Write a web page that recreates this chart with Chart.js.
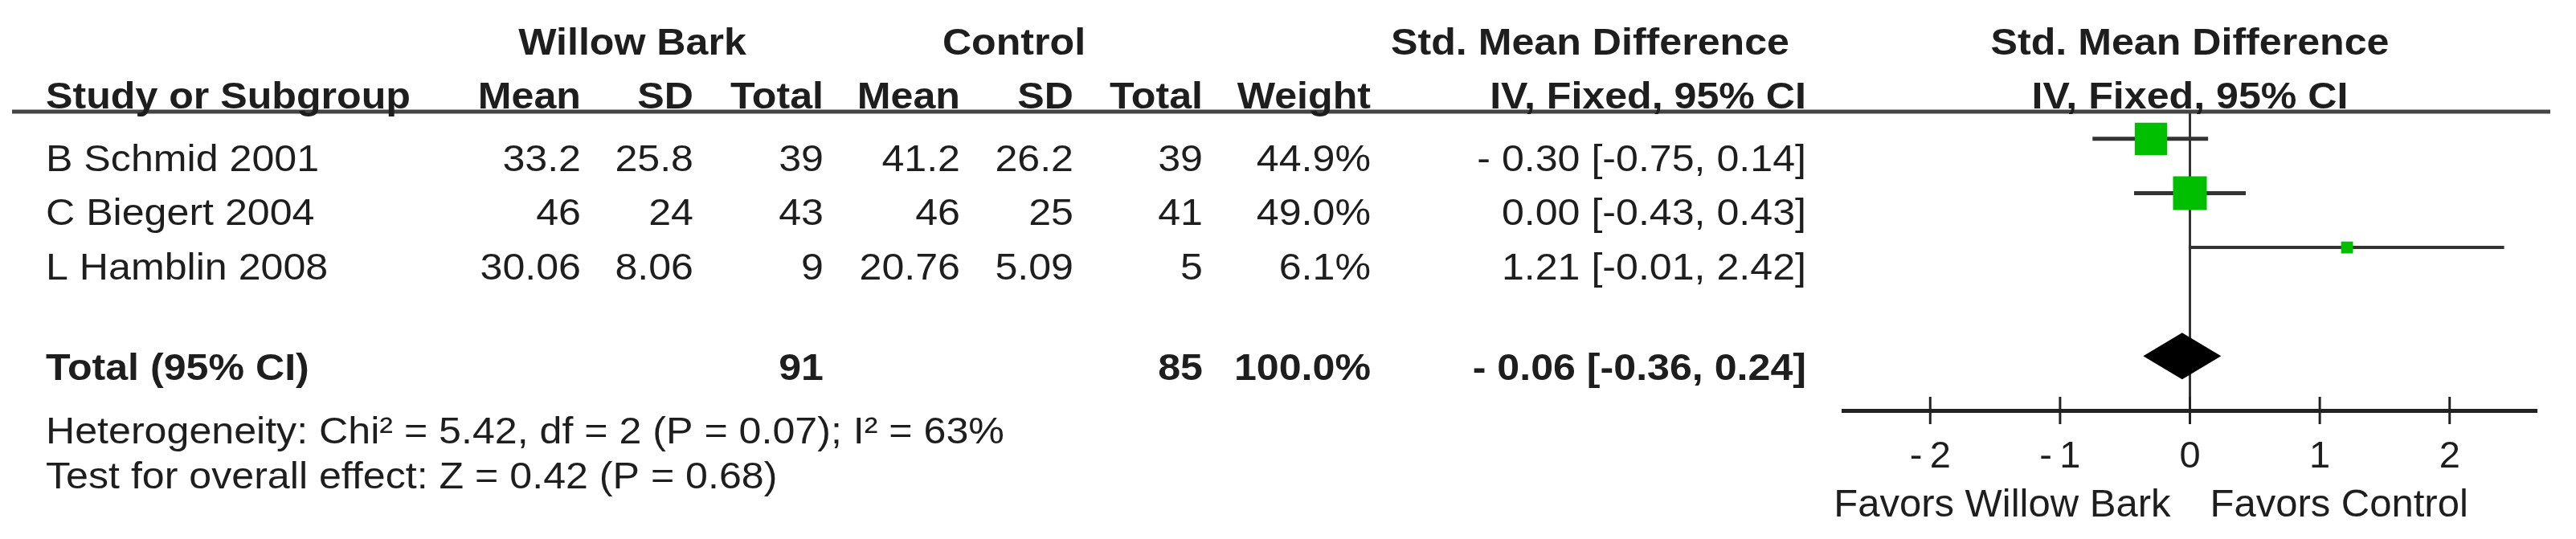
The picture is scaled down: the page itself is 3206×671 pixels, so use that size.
<!DOCTYPE html>
<html>
<head>
<meta charset="utf-8">
<script src="https://cdn.jsdelivr.net/npm/chart.js@4.4.1/dist/chart.umd.min.js"></script>
<style>
    html, body { margin: 0; padding: 0; background: #fff; }
    #wrap { width: 3206px; height: 671px; }
</style>
</head>
<body>
<div id="wrap"><canvas id="forestChart" width="3206" height="671"></canvas></div>
<script>
// data
const studies = ["B Schmid 2001", "C Biegert 2004", "L Hamblin 2008"];
const wbMean = [33.2, 46, 30.06];
const wbSD = [25.8, 24, 8.06];
const wbTotal = [39, 43, 9];
const ctlMean = [41.2, 46, 20.76];
const ctlSD = [26.2, 25, 5.09];
const ctlTotal = [39, 41, 5];
const weights = [44.9, 49.0, 6.1];
const smd = [-0.30, 0.00, 1.21];
const ciLow = [-0.75, -0.43, -0.01];
const ciHigh = [0.14, 0.43, 2.42];
const pooled = [-0.06, -0.36, 0.24];     // estimate, low, high
const totals = [91, 85];
const totalWeight = 100.0;
const heterogeneity = "Heterogeneity: Chi² = 5.42, df = 2 (P = 0.07); I² = 63%";
const overallTest = "Test for overall effect: Z = 0.42 (P = 0.68)";
const tickValues = [-2, -1, 0, 1, 2];
const favorsLabels = ["Favors Willow Bark", "Favors Control"];

const rowPos = [1, 2, 3];
const totalPos = 5;

const FONT = '"Liberation Sans", Arial, sans-serif';
const TEXT = "#1e1e1e";
const SX = 1.09;

function put(ctx, s, x, y, align, bold, size, sx) {
    ctx.save();
    ctx.font = (bold ? "bold " : "") + (size || 46) + "px " + FONT;
    ctx.fillStyle = TEXT;
    ctx.textAlign = align;
    ctx.textBaseline = "alphabetic";
    ctx.translate(x, y);
    ctx.scale(sx || SX, 1);
    ctx.fillText(s, 0, 0);
    ctx.restore();
}

const fmtSmd = v => (v < 0 ? "- " : "") + Math.abs(v).toFixed(2);
const fmtCi = (lo, hi) => "[" + lo.toFixed(2) + ", " + hi.toFixed(2) + "]";

// column anchors (right edges, except study name)
const col = { study: 57, wbMean: 723, wbSD: 863, wbTotal: 1025, cMean: 1195, cSD: 1336, cTotal: 1497, weight: 1706, ci: 2248 };
const rowBase = [213, 280, 348];

const forestPlugin = {
    id: "forestExtras",
    beforeDatasetsDraw(chart) {
        const ctx = chart.ctx;
        const xs = chart.scales.x;
        const a = chart.chartArea;
        const x0 = xs.getPixelForValue(0);
        ctx.save();
        ctx.strokeStyle = "#333";
        ctx.lineWidth = 3;
        ctx.beginPath();
        ctx.moveTo(x0, a.top);
        ctx.lineTo(x0, a.bottom);
        ctx.stroke();
        ctx.restore();
    },
    afterDatasetsDraw(chart) {
        const ctx = chart.ctx;
        const xs = chart.scales.x;
        const ys = chart.scales.y;
        const cx = xs.getPixelForValue(pooled[0]);
        const l = xs.getPixelForValue(pooled[1]);
        const r = xs.getPixelForValue(pooled[2]);
        const cy = ys.getPixelForValue(totalPos);
        const h = 29;
        ctx.save();
        ctx.fillStyle = "#000";
        ctx.beginPath();
        ctx.moveTo(l, cy);
        ctx.lineTo(cx, cy - h);
        ctx.lineTo(r, cy);
        ctx.lineTo(cx, cy + h);
        ctx.closePath();
        ctx.fill();
        ctx.restore();
    },
    afterDraw(chart) {
        const ctx = chart.ctx;
        const xs = chart.scales.x;
        const a = chart.chartArea;
        const x0 = xs.getPixelForValue(0);

        // tick marks across the axis
        ctx.save();
        ctx.strokeStyle = "#222";
        ctx.lineWidth = 3;
        tickValues.forEach(v => {
            const px = xs.getPixelForValue(v);
            ctx.beginPath();
            ctx.moveTo(px, a.bottom - 17);
            ctx.lineTo(px, a.bottom + 17);
            ctx.stroke();
        });
        // header rule
        ctx.strokeStyle = "#444";
        ctx.lineWidth = 5;
        ctx.beginPath();
        ctx.moveTo(15, a.top);
        ctx.lineTo(3174, a.top);
        ctx.stroke();
        ctx.restore();

        // headers
        put(ctx, "Willow Bark", 787, 68, "center", true);
        put(ctx, "Control", 1262, 68, "center", true);
        put(ctx, "Std. Mean Difference", 1979, 68, "center", true);
        put(ctx, "Std. Mean Difference", x0, 68, "center", true);
        put(ctx, "Study or Subgroup", col.study, 135, "left", true);
        put(ctx, "Mean", col.wbMean, 135, "right", true);
        put(ctx, "SD", col.wbSD, 135, "right", true);
        put(ctx, "Total", col.wbTotal, 135, "right", true);
        put(ctx, "Mean", col.cMean, 135, "right", true);
        put(ctx, "SD", col.cSD, 135, "right", true);
        put(ctx, "Total", col.cTotal, 135, "right", true);
        put(ctx, "Weight", col.weight, 135, "right", true);
        put(ctx, "IV, Fixed, 95% CI", col.ci, 135, "right", true);
        put(ctx, "IV, Fixed, 95% CI", x0, 135, "center", true);

        // study rows
        studies.forEach((s, i) => {
            const y = rowBase[i];
            put(ctx, s, col.study, y, "left");
            put(ctx, String(wbMean[i]), col.wbMean, y, "right");
            put(ctx, String(wbSD[i]), col.wbSD, y, "right");
            put(ctx, String(wbTotal[i]), col.wbTotal, y, "right");
            put(ctx, String(ctlMean[i]), col.cMean, y, "right");
            put(ctx, String(ctlSD[i]), col.cSD, y, "right");
            put(ctx, String(ctlTotal[i]), col.cTotal, y, "right");
            put(ctx, weights[i].toFixed(1) + "%", col.weight, y, "right");
            put(ctx, fmtSmd(smd[i]) + " " + fmtCi(ciLow[i], ciHigh[i]), col.ci, y, "right");
        });

        // total row
        put(ctx, "Total (95% CI)", col.study, 473, "left", true);
        put(ctx, String(totals[0]), col.wbTotal, 473, "right", true);
        put(ctx, String(totals[1]), col.cTotal, 473, "right", true);
        put(ctx, totalWeight.toFixed(1) + "%", col.weight, 473, "right", true);
        put(ctx, fmtSmd(pooled[0]) + " " + fmtCi(pooled[1], pooled[2]), col.ci, 473, "right", true);

        put(ctx, heterogeneity, col.study, 552, "left");
        put(ctx, overallTest, col.study, 608, "left");

        // favours labels
        put(ctx, favorsLabels[0], x0 - 24, 643, "right", false, 49, 1);
        put(ctx, favorsLabels[1], x0 + 25, 643, "left", false, 49, 1);
    }
};

const datasets = studies.map((s, i) => ({
    label: s + " CI",
    data: [{ x: ciLow[i], y: rowPos[i] }, { x: ciHigh[i], y: rowPos[i] }],
    showLine: true,
    borderColor: "#333",
    borderWidth: i === 2 ? 4 : 5,
    pointRadius: 0,
    order: 2
}));
datasets.push({
    label: "Std. Mean Difference",
    data: smd.map((v, i) => ({ x: v, y: rowPos[i] })),
    pointStyle: "rect",
    pointRadius: weights.map(w => 6 * Math.sqrt(w) / Math.SQRT2),
    pointBackgroundColor: "#00bf00",
    pointBorderWidth: 0,
    order: 0
});

new Chart(document.getElementById("forestChart"), {
    type: "scatter",
    data: { datasets: datasets },
    options: {
        responsive: false,
        animation: false,
        layout: { padding: { left: 2294, right: 49, top: 139, bottom: 0 } },
        plugins: { legend: { display: false }, tooltip: { enabled: false } },
        scales: {
            x: {
                type: "linear",
                min: -2.67,
                max: 2.67,
                afterBuildTicks: s => { s.ticks = tickValues.map(v => ({ value: v })); },
                afterFit: s => { s.height = 160; },
                grid: { display: true, drawOnChartArea: false, drawTicks: false },
                border: { display: true, color: "#222", width: 5 },
                ticks: {
                    color: TEXT,
                    font: { size: 47, family: FONT },
                    padding: 30,
                    autoSkip: false,
                    maxRotation: 0,
                    callback: v => v < 0 ? "-\u2009" + Math.abs(v) : String(v)
                }
            },
            y: { type: "linear", reverse: true, min: 0.5, max: 6, display: false }
        }
    },
    plugins: [forestPlugin]
});
</script>
</body>
</html>
